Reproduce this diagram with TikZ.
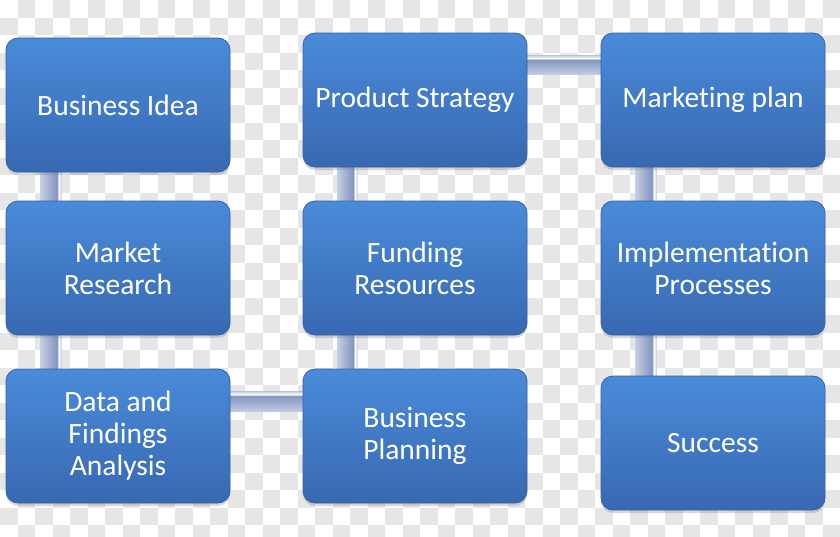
\documentclass[tikz,border=0pt]{standalone}
\usepackage{fontspec}
\setmainfont[Ligatures=NoCommon]{Carlito}
\usepackage{tikz}
\usetikzlibrary{calc,shadows}
\definecolor{checkgray}{HTML}{E6E6E6}
\definecolor{boxtop}{HTML}{4A8BD9}
\definecolor{boxbot}{HTML}{3868B2}
\definecolor{boxedge}{HTML}{3462A6}
\definecolor{barlight}{HTML}{C4CDE3}
\definecolor{barmid}{HTML}{A3B0D0}
\definecolor{bardark}{HTML}{8495C0}
\pgfdeclarehorizontalshading{barshade}{100bp}{color(0bp)=(barlight); color(25bp)=(barlight);
  color(45bp)=(barmid); color(64bp)=(bardark); color(68bp)=(white); color(75bp)=(barlight); color(100bp)=(barlight)}
\pgfdeclarelayer{checks}
\pgfdeclarelayer{bars}
\pgfsetlayers{checks,bars,main}

\begin{document}
\begin{tikzpicture}[x=1pt,y=-1pt,
    step box/.style={rounded corners=12pt, draw=boxedge, line width=0.8pt,
      top color=boxtop, bottom color=boxbot, text=white, align=center,
      minimum width=224pt, minimum height=134pt, inner sep=0pt,
      font=\fontsize{29.5}{32}\selectfont,
      drop shadow={shadow xshift=0pt, shadow yshift=-3pt, opacity=0.3}},
    vbar/.style={shading=barshade, shading angle=0},
    hbar/.style={shading=barshade, shading angle=90}]
    \useasboundingbox (0,0) rectangle (840,536);
    %transparent-looking background
    \begin{pgfonlayer}{checks}
      \fill[white] (0,0) rectangle (840,536);
      \foreach \i in {0,...,47}
        \foreach \j in {0,...,30} {
          \pgfmathtruncatemacro\odd{mod(\i+\j,2)}
          \ifnum\odd=1 \fill[checkgray] (\i*17.5,\j*17.5) rectangle ++(17.5,17.5); \fi
        }
    \end{pgfonlayer}
    %the steps, column by column
    \node[step box] (idea) at (118,105) {Business Idea};
    \node[step box] (research) at (118,268) {Market\\Research};
    \node[step box] (data) at (118,436) {Data and\\Findings\\Analysis};
    \node[step box] (strategy) at (415,100) {Product Strategy};
    \node[step box] (funding) at (415,268) {Funding\\Resources};
    \node[step box] (planning) at (415,436) {Business\\Planning};
    \node[step box] (marketing) at (713,100) {Marketing plan};
    \node[step box] (implement) at (713,268) {Implementation\\Processes};
    \node[step box] (success) at (713,443) {Success};
    %connecting bars behind the boxes
    \begin{pgfonlayer}{bars}
      \shade[vbar] ($(idea.south west)+(35,-8)$) rectangle ($(research.north west)+(56,8)$);
      \shade[vbar] ($(research.south west)+(35,-8)$) rectangle ($(data.north west)+(56,8)$);
      \shade[hbar] ($(data.north east)+(-8,23)$) rectangle ($(planning.north west)+(8,43)$);
      \shade[vbar] ($(funding.south west)+(35,-8)$) rectangle ($(planning.north west)+(55,8)$);
      \shade[vbar] ($(strategy.south west)+(35,-8)$) rectangle ($(funding.north west)+(55,8)$);
      \shade[hbar] ($(strategy.north east)+(-8,23)$) rectangle ($(marketing.north west)+(8,42)$);
      \shade[vbar] ($(marketing.south west)+(35,-8)$) rectangle ($(implement.north west)+(56,8)$);
      \shade[vbar] ($(implement.south west)+(35,-8)$) rectangle ($(success.north west)+(56,8)$);
    \end{pgfonlayer}
\end{tikzpicture}
\end{document}
